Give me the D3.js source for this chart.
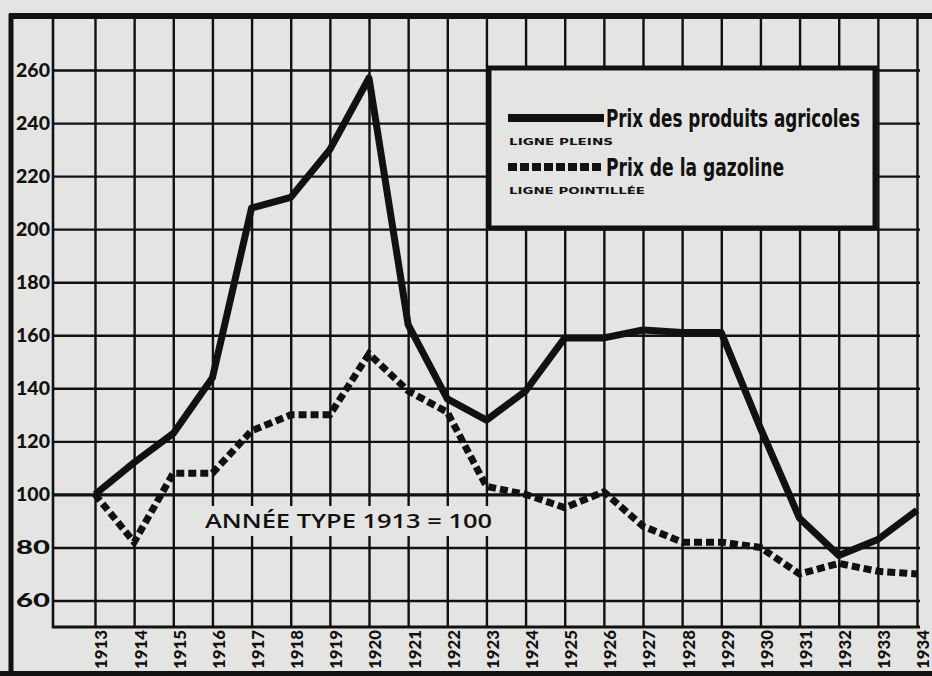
<!DOCTYPE html>
<html>
<head>
<meta charset="utf-8">
<script src="https://cdn.jsdelivr.net/npm/d3@7"></script>
<style>
body { margin: 0; background: #e4e4e2; }
svg { display: block; }
</style>
</head>
<body>
<svg></svg>
<script>
// values (1913 = 100)
const years = [1913, 1914, 1915, 1916, 1917, 1918, 1919, 1920, 1921, 1922, 1923,
               1924, 1925, 1926, 1927, 1928, 1929, 1930, 1931, 1932, 1933, 1934]
const agricole = [100, 112, 123, 144, 208, 212, 230, 257, 164, 136, 128,
                  139, 159, 159, 162, 161, 161, 125, 91, 77, 83, 94]
const gazoline = [100, 82, 108, 108, 124, 130, 130, 153, 139, 131, 103,
                  100, 95, 101, 88, 82, 82, 80, 70, 74, 71, 70]
const yTicks = [60, 80, 100, 120, 140, 160, 180, 200, 220, 240, 260]
const legendLabels = ["Prix des produits agricoles", "Prix de la gazoline"]
const legendNotes = ["LIGNE PLEINS", "LIGNE POINTILLÉE"]
const baseNote = "ANNÉE TYPE 1913 = 100"

const w = 932
const h = 676
const ink = "#111"
const paper = "#e4e4e2"

const svg = d3.select("svg").attr("width", w).attr("height", h)

svg.append("rect").attr("width", w).attr("height", h).attr("fill", paper)

const x = d3.scaleLinear().domain([1913, 1934]).range([95, 917])
const y = d3.scaleLinear().domain([50, 280]).range([627, 17])

// grid + y labels
const yAxis = d3.axisLeft(y).tickValues(yTicks).tickSize(-867).tickPadding(3)
const gy = svg.append("g").attr("transform", "translate(53,0)").call(yAxis)
gy.select(".domain").remove()
gy.selectAll("line").attr("stroke", ink).attr("stroke-width", d => d == 100 ? 3.2 : 2.4)
gy.selectAll("text").attr("fill", ink).attr("font-family", "Lato, 'DejaVu Sans', sans-serif")
  .attr("font-weight", 900).attr("font-size", 18).attr("dy", "0.36em")
  .attr("textLength", 34).attr("lengthAdjust", "spacingAndGlyphs")

// grid + x labels
const xAxis = d3.axisBottom(x).tickValues(years).tickSize(-612).tickFormat(d3.format("d"))
const gx = svg.append("g").attr("transform", "translate(0,627)").call(xAxis)
gx.select(".domain").remove()
gx.selectAll("line").attr("stroke", ink).attr("stroke-width", 2.4)
gx.selectAll("text").attr("fill", ink).attr("font-family", "Lato, 'DejaVu Sans', sans-serif")
  .attr("font-weight", 900).attr("font-size", 17)
  .attr("transform", "rotate(-90)").attr("text-anchor", "end")
  .attr("x", -3).attr("y", 6).attr("dy", "0.35em")
  .attr("textLength", 39).attr("lengthAdjust", "spacingAndGlyphs")

// left edge of plot and bottom axis line
svg.append("line").attr("x1", 53).attr("x2", 53).attr("y1", 15).attr("y2", 628)
  .attr("stroke", ink).attr("stroke-width", 2.6)
svg.append("line").attr("x1", 52).attr("x2", 920).attr("y1", 627).attr("y2", 627)
  .attr("stroke", ink).attr("stroke-width", 3)

// outer frame
svg.append("line").attr("x1", 9).attr("x2", w).attr("y1", 16).attr("y2", 16)
  .attr("stroke", ink).attr("stroke-width", 6)
svg.append("line").attr("x1", 11).attr("x2", 11).attr("y1", 14).attr("y2", h)
  .attr("stroke", ink).attr("stroke-width", 5)
svg.append("line").attr("x1", 0).attr("x2", w).attr("y1", 674).attr("y2", 674)
  .attr("stroke", ink).attr("stroke-width", 6)

// note
svg.append("rect").attr("x", 200).attr("y", 506).attr("width", 298).attr("height", 30).attr("fill", paper)
svg.append("text").attr("x", 205).attr("y", 528).text(baseNote)
  .attr("font-family", "'Open Sans', 'DejaVu Sans', sans-serif").attr("font-size", 20)
  .attr("font-weight", 600).attr("fill", ink)
  .attr("textLength", 287).attr("lengthAdjust", "spacingAndGlyphs")

// lines
const line = (vals) => d3.line().x((d, i) => x(years[i])).y(d => y(d))(vals)

svg.append("path").attr("d", line(gazoline)).attr("fill", "none")
  .attr("stroke", ink).attr("stroke-width", 7).attr("stroke-dasharray", "8,4")
svg.append("path").attr("d", line(agricole)).attr("fill", "none")
  .attr("stroke", ink).attr("stroke-width", 7).attr("stroke-linejoin", "round")

// legend
const lg = svg.append("g")
lg.append("rect").attr("x", 489).attr("y", 68).attr("width", 386).attr("height", 160)
  .attr("fill", paper).attr("stroke", ink).attr("stroke-width", 5)

const rows = [{ dash: null, ly: 118 }, { dash: "9,3", ly: 167 }]
rows.forEach((r, i) => {
  lg.append("line").attr("x1", 508).attr("x2", 604).attr("y1", r.ly).attr("y2", r.ly)
    .attr("stroke", ink).attr("stroke-width", 8).attr("stroke-dasharray", r.dash)
  lg.append("text").attr("x", 606).attr("y", r.ly + 9).text(legendLabels[i])
    .attr("font-family", "'Liberation Sans Narrow', 'DejaVu Sans Condensed', sans-serif")
    .attr("font-weight", "bold").attr("font-size", 24).attr("fill", ink)
    .attr("textLength", i == 0 ? 254 : 178).attr("lengthAdjust", "spacingAndGlyphs")
  lg.append("text").attr("x", 509).attr("y", r.ly + 27).text(legendNotes[i])
    .attr("font-family", "'DejaVu Sans', sans-serif").attr("font-weight", "bold")
    .attr("font-size", 8).attr("fill", ink)
    .attr("textLength", i == 0 ? 104 : 136).attr("lengthAdjust", "spacingAndGlyphs")
})
</script>
</body>
</html>
